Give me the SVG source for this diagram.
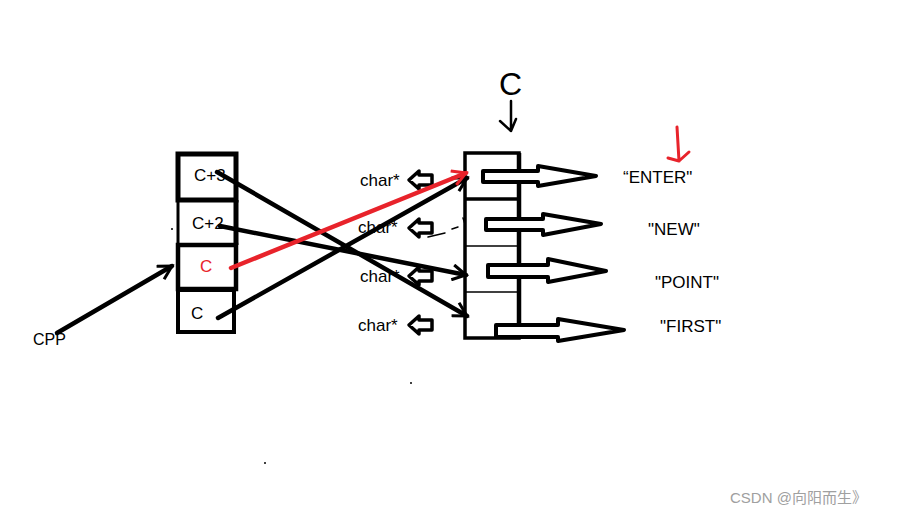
<svg xmlns="http://www.w3.org/2000/svg" width="906" height="515" viewBox="0 0 906 515">
<defs>
<style>
.t{font-family:"Liberation Sans","Noto Sans",Arial,sans-serif;font-size:17px;fill:#000}
.cell{fill:none;stroke:#000}
.ln{stroke:#000;stroke-width:4.5;stroke-linecap:round;fill:none}
.blk{fill:#fff;stroke:#000;stroke-width:4;stroke-linejoin:round}
.sm{fill:#fff;stroke:#000;stroke-width:3.5;stroke-linejoin:round}
</style>
<marker id="open" viewBox="0 0 12 12" refX="10" refY="6" markerWidth="4" markerHeight="4" orient="auto" markerUnits="strokeWidth">
<path d="M1,1 L10,6 L1,11" fill="none" stroke="#000" stroke-width="2"/>
</marker>
<marker id="openred" viewBox="0 0 12 12" refX="10" refY="6" markerWidth="4" markerHeight="4" orient="auto" markerUnits="strokeWidth">
<path d="M1,1 L10,6 L1,11" fill="none" stroke="#e8232b" stroke-width="2"/>
</marker>
</defs>
<rect width="906" height="515" fill="#fff"/>

<g id="left-stack">
<g id="cell-c3">
<rect x="178" y="154" width="58" height="46" class="cell" stroke-width="5"/>
<text x="194" y="181" class="t">C+3</text>
</g>
<g id="cell-c2">
<line x1="178" y1="200" x2="178" y2="245" stroke="#000" stroke-width="3"/>
<line x1="236" y1="200" x2="236" y2="245" stroke="#000" stroke-width="5"/>
<text x="192" y="229" class="t">C+2</text>
</g>
<g id="cell-c-red">
<rect x="178" y="245" width="58" height="44" class="cell" stroke-width="4.5"/>
<text x="200" y="272" class="t" fill="#e8232b" style="fill:#e8232b">C</text>
</g>
<g id="cell-c">
<rect x="178" y="290" width="56" height="42" class="cell" stroke-width="4"/>
<text x="191" y="319" class="t">C</text>
</g>
</g>

<g id="right-stack">
<rect x="465" y="153" width="54" height="185" fill="none" stroke="#000" stroke-width="3.5"/>
<line x1="519" y1="153" x2="519" y2="338" stroke="#000" stroke-width="4.5"/>
<line x1="465" y1="199" x2="519" y2="199" stroke="#000" stroke-width="3.5"/>
<line x1="465" y1="246" x2="519" y2="246" stroke="#000" stroke-width="1.5"/>
<line x1="465" y1="292" x2="519" y2="292" stroke="#000" stroke-width="1.5"/>
</g>

<g id="top-c">
<text x="499" y="95" style="font-family:'Liberation Sans',sans-serif;font-size:32px" fill="#000">C</text>
<path d="M511,101 L511,131 M500,121 L511,131 L516,119" fill="none" stroke="#000" stroke-width="2.5" stroke-linecap="round" stroke-linejoin="round"/>
</g>
<g id="red-mark">
<path d="M677,127 L679,161 M668,158 L679,161 L689,152" fill="none" stroke="#e8232b" stroke-width="3" stroke-linecap="round" stroke-linejoin="round"/>
</g>

<g id="strings">
<text x="623" y="183" class="t">“ENTER"</text>
<text x="648" y="235" class="t">"NEW"</text>
<text x="655" y="288" class="t">"POINT"</text>
<text x="660" y="332" class="t">"FIRST"</text>
</g>

<g id="char-labels">
<text x="360" y="186" class="t">char*</text>
<text x="358" y="233" class="t">char*</text>
<text x="360" y="282" class="t">char*</text>
<text x="358" y="331" class="t">char*</text>
</g>

<g id="connectors">
<path class="sm" d="M409,180 L419,171 L419,175 L432,175 L432,185 L419,185 L419,189 Z"/>
<path class="sm" d="M409,228 L419,219 L419,223 L432,223 L432,233 L419,233 L419,237 Z"/>
<path class="sm" d="M409,276 L419,267 L419,271 L432,271 L432,281 L419,281 L419,285 Z"/>
<path class="sm" d="M409,325 L419,316 L419,320 L432,320 L432,330 L419,330 L419,334 Z"/>

<path class="blk" d="M483,171 L538,171 L538,166 L596,176 L538,186 L538,182 L483,182 Z"/>
<path class="blk" d="M486,219 L543,219 L543,214 L601,224 L543,235 L543,230 L486,230 Z"/>
<path class="blk" d="M488,265 L548,265 L548,259 L606,271 L548,282 L548,277 L488,277 Z"/>
<path class="blk" d="M496,325 L558,325 L558,319 L624,330 L558,341 L558,337 L496,337 Z"/>

<line x1="217" y1="172" x2="467" y2="316" class="ln" marker-end="url(#open)"/>
<line x1="220" y1="226" x2="466" y2="275" class="ln" marker-end="url(#open)"/>
<line x1="218" y1="318" x2="467" y2="178" class="ln" marker-end="url(#open)"/>
<line x1="231" y1="268" x2="466" y2="173" stroke="#e8232b" stroke-width="4.5" stroke-linecap="round" marker-end="url(#openred)"/>
<line x1="57" y1="333" x2="172" y2="266" class="ln" marker-end="url(#open)"/>
<path d="M428,237 L445,233 M452,229 L458,227 M463,218 L465,224" fill="none" stroke="#000" stroke-width="1.5" stroke-linecap="round"/>
</g>

<g id="misc">
<text x="33" y="345" style="font-family:'Liberation Sans',sans-serif;font-size:16px" fill="#000">CPP</text>
<circle cx="411" cy="383" r="1" fill="#000"/>
<circle cx="265" cy="463" r="1" fill="#000"/>
<circle cx="172" cy="229" r="1" fill="#000"/>
<text x="730" y="503" style="font-family:'Liberation Sans','Noto Sans CJK SC',sans-serif;font-size:15px" fill="#a0a0a0">CSDN @向阳而生》</text>
</g>
</svg>
